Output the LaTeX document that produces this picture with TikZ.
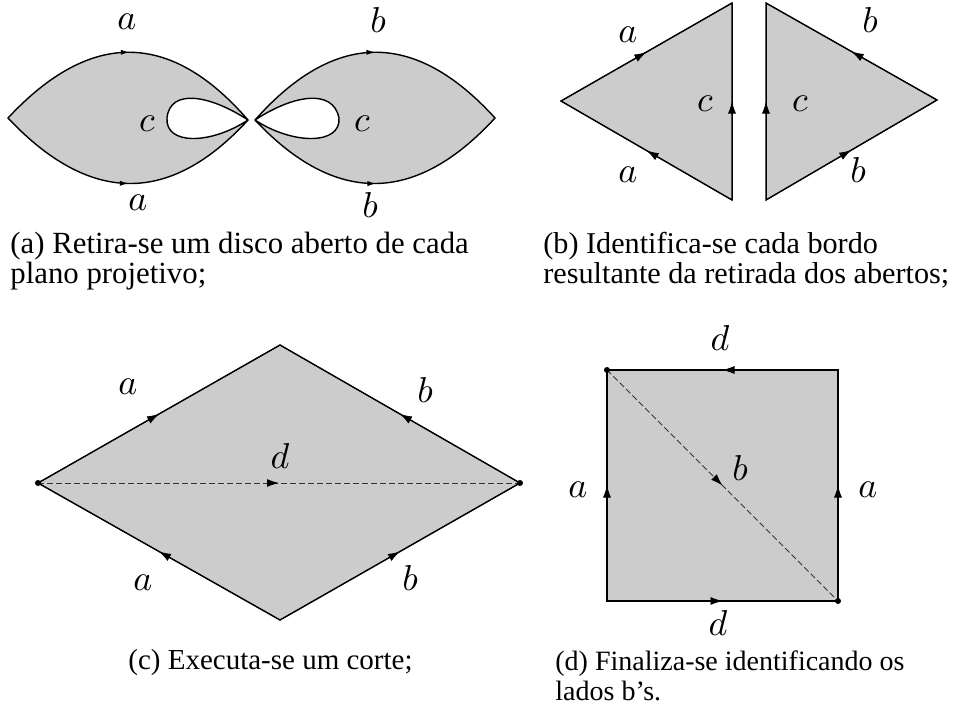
\documentclass[tikz,border=0pt]{standalone}
\usepackage{fontspec}
\setmainfont{Liberation Serif}
\usepackage{tikz}
\usetikzlibrary{arrows.meta,decorations.markings}
\definecolor{facegray}{gray}{0.8}
\newcommand{\edgelbl}[1]{\scalebox{1.8}{$#1$}}

\begin{document}
\begin{tikzpicture}[x=0.5pt, y=-0.5pt,
  face/.style={fill=facegray, draw=black, line width=0.7pt},
  cut/.style={draw=black!80, dash pattern=on 3pt off 1.5pt, line width=0.5pt},
  midarrow/.style={postaction={decorate, decoration={markings,
      mark=at position #1 with {\arrow[black]{Latex[length=6pt,width=4pt]}}}}},
  midarrow/.default=0.5,
  tick/.style={postaction={decorate, decoration={markings,
      mark=at position 0.5 with {\arrow{Latex[length=4pt,width=2.6pt]}}}}},
  lab/.style={inner sep=0pt},
  captxt/.style={font=\fontsize{#1}{15}\selectfont, align=left, inner sep=0pt, anchor=north west},
  captxt/.default=14.5
]
\useasboundingbox (0,0) rectangle (955,709);

% (a) two projective planes, a disc removed from each
\filldraw[face, even odd rule]
  (8,118) .. controls (90,30) and (170,30) .. (248,120)
          .. controls (170,205) and (90,205) .. (8,118) -- cycle
  (248,120) .. controls (210,95) and (170,88) .. (167,118)
            .. controls (165,145) and (210,145) .. (248,120);
\path[tick] (8,118) .. controls (90,30) and (170,30) .. (248,120);
\path[tick] (8,118) .. controls (90,205) and (170,205) .. (248,120);
\filldraw[face, even odd rule]
  (255,120) .. controls (335,30) and (415,30) .. (495,118)
            .. controls (415,205) and (335,205) .. (255,120) -- cycle
  (255,120) .. controls (293,95) and (333,88) .. (339,118)
            .. controls (341,145) and (293,145) .. (255,120);
\path[tick] (255,120) .. controls (335,30) and (415,30) .. (495,118);
\path[tick] (255,120) .. controls (335,205) and (415,205) .. (495,118);
\node[lab] (aa1) at (127,22) {\edgelbl{a}};
\node[lab] (aa2) at (138,203) {\edgelbl{a}};
\node[lab] (ac1) at (147,124) {\edgelbl{c}};
\node[lab] (ab1) at (378,20) {\edgelbl{b}};
\node[lab] (ab2) at (370,205) {\edgelbl{b}};
\node[lab] (ac2) at (362,124) {\edgelbl{c}};

% (b) the two triangles
\coordinate (bl) at (561,101);
\coordinate (bt1) at (732,3);
\coordinate (bb1) at (732,200);
\coordinate (bt2) at (766,3);
\coordinate (bb2) at (766,200);
\coordinate (br) at (937,100);
\filldraw[face] (bl) -- (bt1) -- (bb1) -- cycle;
\filldraw[face] (bt2) -- (br) -- (bb2) -- cycle;
\draw[midarrow] (bl) -- (bt1);
\draw[midarrow] (bb1) -- (bl);
\draw[midarrow] (bb1) -- (bt1);
\draw[midarrow] (bb2) -- (bt2);
\draw[midarrow] (br) -- (bt2);
\draw[midarrow] (bb2) -- (br);
\node[lab] (ba1) at (628,35) {\edgelbl{a}};
\node[lab] (ba2) at (628,175) {\edgelbl{a}};
\node[lab] (bc1) at (705,104) {\edgelbl{c}};
\node[lab] (bc2) at (800,104) {\edgelbl{c}};
\node[lab] (bb1l) at (870,20) {\edgelbl{b}};
\node[lab] (bb2l) at (858,170) {\edgelbl{b}};

% (c) the cut
\coordinate (cl) at (38,483);
\coordinate (ct) at (280,345);
\coordinate (cr) at (520,483);
\coordinate (cb) at (280,620);
\filldraw[face] (cl) -- (ct) -- (cr) -- (cb) -- cycle;
\draw[midarrow] (cl) -- (ct);
\draw[midarrow] (cr) -- (ct);
\draw[midarrow] (cb) -- (cl);
\draw[midarrow] (cb) -- (cr);
\draw[cut, midarrow] (cl) -- (cr);
\fill (cl) circle (3) (cr) circle (3);
\node[lab] (ca1) at (128,387) {\edgelbl{a}};
\node[lab] (cb1) at (425,390) {\edgelbl{b}};
\node[lab] (cd) at (280,456) {\edgelbl{d}};
\node[lab] (ca2) at (143,583) {\edgelbl{a}};
\node[lab] (cb2) at (410,578) {\edgelbl{b}};

% (d) the square
\coordinate (dtl) at (607,370);
\coordinate (dtr) at (838,370);
\coordinate (dbl) at (607,601);
\coordinate (dbr) at (838,601);
\filldraw[face] (dtl) -- (dtr) -- (dbr) -- (dbl) -- cycle;
\draw[midarrow] (dtr) -- (dtl);
\draw[midarrow] (dbl) -- (dbr);
\draw[midarrow] (dbl) -- (dtl);
\draw[midarrow] (dbr) -- (dtr);
\draw[cut, midarrow] (dtl) -- (dbr);
\fill (dtl) circle (3) (dbr) circle (3);
\node[lab] (dd1) at (720,338) {\edgelbl{d}};
\node[lab] (db) at (740,468) {\edgelbl{b}};
\node[lab] (da1) at (578,490) {\edgelbl{a}};
\node[lab] (da2) at (868,490) {\edgelbl{a}};
\node[lab] (dd2) at (718,623) {\edgelbl{d}};

% captions
\node[captxt=15.4] (capa) at (10,232) {(a) Retira-se um disco aberto de cada\\plano projetivo;};
\node[captxt=15.1] (capb) at (543,232) {(b) Identifica-se cada bordo\\resultante da retirada dos abertos;};
\node[captxt] (capc) at (128,649) {(c) Executa-se um corte;};
\node[captxt=14] (capd) at (555,650) {(d) Finaliza-se identificando os\\lados b's.};
\end{tikzpicture}
\end{document}
